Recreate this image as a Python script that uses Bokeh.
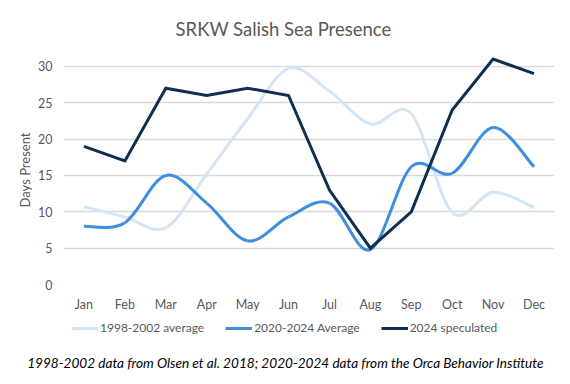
from bokeh.plotting import figure
from bokeh.layouts import column, row
from bokeh.models import (Range1d, FixedTicker, Legend, LegendItem, Label, ColumnDataSource)
from bokeh.embed import file_html
from bokeh.resources import INLINE

months = ["Jan", "Feb", "Mar", "Apr", "May", "Jun", "Jul", "Aug", "Sep", "Oct", "Nov", "Dec"]
avg_1998_2002 = [10.7, 9.3, 7.8, 15.2, 22.8, 29.7, 26.6, 22.1, 23.5, 9.9, 12.7, 10.6]
avg_2020_2024 = [8.0, 8.5, 15.0, 11.2, 6.0, 9.3, 11.2, 4.8, 16.2, 15.3, 21.6, 16.2]
spec_2024 = [19, 17, 27, 26, 27, 26, 13, 5, 10, 24, 31, 29]
y_ticks = [0, 5, 10, 15, 20, 25, 30]
series_labels = ["1998-2002 average", "2020-2024 Average", "2024 speculated"]
footnote = "1998-2002 data from Olsen et al. 2018; 2020-2024 data from the Orca Behavior Institute"

c_light = "#D5E5F6"
c_mid = "#3E8EDD"
c_dark = "#102D52"
grey = "#595959"
FONT = "Lato"
W = 554

p = figure(width=W, height=314, output_backend="svg", toolbar_location=None,
           x_range=Range1d(-0.5, 11.5), y_range=Range1d(0, 31.5),
           min_border_left=63, min_border_right=0, min_border_top=54, min_border_bottom=30)
p.outline_line_color = None

xs = list(range(len(months)))


def smooth_segments(ys):
    n = len(ys)
    d = dict(x0=[], y0=[], x1=[], y1=[], cx0=[], cy0=[], cx1=[], cy1=[])
    for i in range(n - 1):
        im1 = max(i - 1, 0)
        ip2 = min(i + 2, n - 1)
        d["x0"].append(xs[i]); d["y0"].append(ys[i])
        d["x1"].append(xs[i + 1]); d["y1"].append(ys[i + 1])
        d["cx0"].append(xs[i] + (xs[i + 1] - xs[im1]) / 6.0)
        d["cy0"].append(ys[i] + (ys[i + 1] - ys[im1]) / 6.0)
        d["cx1"].append(xs[i + 1] - (xs[ip2] - xs[i]) / 6.0)
        d["cy1"].append(ys[i + 1] - (ys[ip2] - ys[i]) / 6.0)
    return d


lw = 3
p.bezier(source=ColumnDataSource(smooth_segments(avg_1998_2002)), x0="x0", y0="y0", x1="x1", y1="y1",
         cx0="cx0", cy0="cy0", cx1="cx1", cy1="cy1", line_color=c_light, line_width=lw)
p.bezier(source=ColumnDataSource(smooth_segments(avg_2020_2024)), x0="x0", y0="y0", x1="x1", y1="y1",
         cx0="cx0", cy0="cy0", cx1="cx1", cy1="cy1", line_color=c_mid, line_width=lw)
p.line(xs, spec_2024, line_color=c_dark, line_width=lw, line_join="miter")

p.xaxis.ticker = FixedTicker(ticks=xs)
p.xaxis.major_label_overrides = {i: m for i, m in enumerate(months)}
p.yaxis.ticker = FixedTicker(ticks=y_ticks)
for ax in (p.xaxis, p.yaxis):
    ax.axis_line_color = None
    ax.major_tick_line_color = None
    ax.minor_tick_line_color = None
    ax.major_label_text_color = grey
    ax.major_label_text_font = FONT
    ax.major_label_text_font_size = "12.5px"
p.xaxis.major_label_standoff = 6
p.yaxis.major_label_standoff = 5
p.yaxis.axis_label = "Days Present"
p.yaxis.axis_label_text_font = FONT
p.yaxis.axis_label_text_font_size = "13px"
p.yaxis.axis_label_text_font_style = "normal"
p.yaxis.axis_label_text_color = grey
p.yaxis.axis_label_standoff = 2

p.xgrid.grid_line_color = None
p.ygrid.grid_line_color = "#D9D9D9"
p.ygrid.grid_line_width = 1.3

p.title.text = "SRKW Salish Sea Presence"
p.title.align = "left"
p.title.offset = 112
p.title.standoff = 31
p.title.text_font = FONT
p.title.text_font_size = "18.5px"
p.title.text_font_style = "normal"
p.title.text_color = grey

# bottom strip: legend + footnote
q = figure(width=W, height=60, output_backend="svg", toolbar_location=None,
           x_range=Range1d(0, 10), y_range=Range1d(0, 10),
           x_axis_type=None, y_axis_type=None,
           min_border_left=0, min_border_right=0, min_border_top=0, min_border_bottom=0)
q.outline_line_color = None
q.grid.visible = False
rs = [q.line([-5, -4], [-5, -5], line_color=c, line_width=lw) for c in (c_light, c_mid, c_dark)]
legend = Legend(items=[LegendItem(label=lab, renderers=[r]) for lab, r in zip(series_labels, rs)],
                orientation="horizontal", location=(71, 39),
                label_text_font=FONT, label_text_font_size="12px", label_text_color=grey,
                glyph_width=27, glyph_height=14, label_standoff=2, spacing=21, padding=2, margin=0,
                border_line_color=None, background_fill_alpha=0)
q.add_layout(legend, "center")
q.add_layout(Label(x=285, y=12, x_units="screen", y_units="screen", text=footnote,
                   text_align="center", text_baseline="middle", text_font=FONT,
                   text_font_size="13.6px", text_font_style="italic", text_color="black"))

layout = column(p, row(q), spacing=0)
open("out.html", "w").write(file_html(layout, INLINE))
